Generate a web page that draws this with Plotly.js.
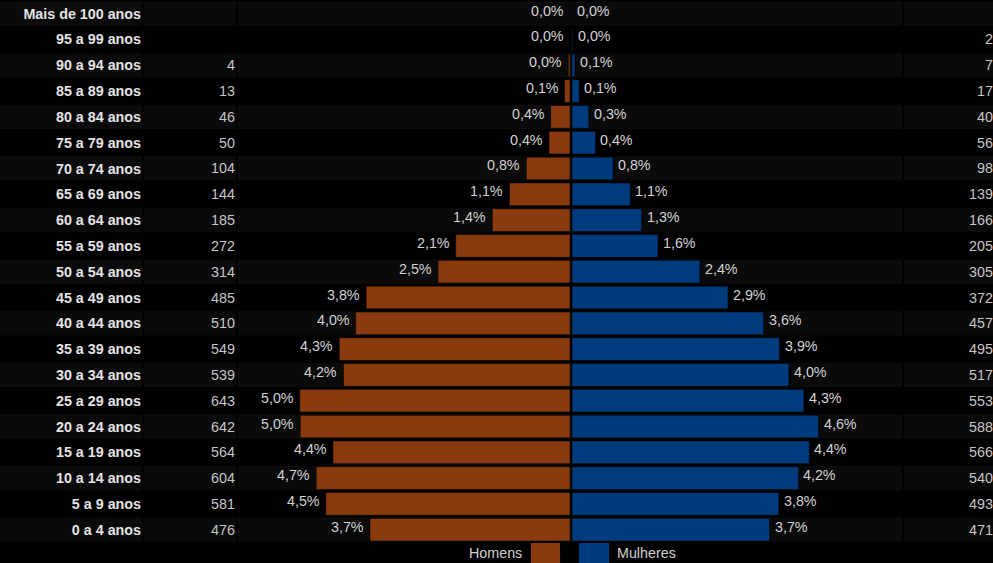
<!DOCTYPE html>
<html><head><meta charset="utf-8">
<script src="https://cdn.plot.ly/plotly-3.0.1.min.js"></script>
<style>html,body{margin:0;padding:0;background:#000;overflow:hidden;} #chart{width:993px;height:563px;}</style>
</head><body><div id="chart"></div>
<script>
// Index 0 = bottom row (0 a 4 anos)
const ageGroups = ["0 a 4 anos","5 a 9 anos","10 a 14 anos","15 a 19 anos","20 a 24 anos","25 a 29 anos","30 a 34 anos","35 a 39 anos","40 a 44 anos","45 a 49 anos","50 a 54 anos","55 a 59 anos","60 a 64 anos","65 a 69 anos","70 a 74 anos","75 a 79 anos","80 a 84 anos","85 a 89 anos","90 a 94 anos","95 a 99 anos","Mais de 100 anos"];
const menCounts = [476,581,604,564,642,643,539,549,510,485,314,272,185,144,104,50,46,13,4,null,null];
const menPct = ["3,7%","4,5%","4,7%","4,4%","5,0%","5,0%","4,2%","4,3%","4,0%","3,8%","2,5%","2,1%","1,4%","1,1%","0,8%","0,4%","0,4%","0,1%","0,0%","0,0%","0,0%"];
const womenCounts = [471,493,540,566,588,553,517,495,457,372,305,205,166,139,98,56,40,17,7,2,null];
const womenPct = ["3,7%","3,8%","4,2%","4,4%","4,6%","4,3%","4,0%","3,9%","3,6%","2,9%","2,4%","1,6%","1,3%","1,1%","0,8%","0,4%","0,3%","0,1%","0,1%","0,0%","0,0%"];
const legendLabels = ["Homens","Mulheres"];

const W = 993, H = 563;
const MEN_COLOR = "#8a3a0f", WOMEN_COLOR = "#003b7e";
const FONT = "Liberation Sans, Arial, sans-serif";
const idx = ageGroups.map((_, i) => i);

const traces = [
  {type:"bar", orientation:"h", x: menCounts.map(v => -(v || 0)), y: idx, xaxis:"x", yaxis:"y",
   width:0.88, marker:{color:MEN_COLOR, line:{color:"rgba(0,0,0,0.55)", width:1}}, hoverinfo:"skip", name:legendLabels[0]},
  {type:"bar", orientation:"h", x: womenCounts.map(v => (v || 0)), y: idx, xaxis:"x2", yaxis:"y",
   width:0.88, marker:{color:WOMEN_COLOR, line:{color:"rgba(0,0,0,0.55)", width:1}}, hoverinfo:"skip", name:legendLabels[1]}
];

const shapes = [];
const cols = [[0,142],[144,236],[238,902],[904,993]];
idx.forEach(i => {
  if (i % 2 === 0) {
    cols.forEach(c => shapes.push({type:"rect", xref:"paper", yref:"y", x0:c[0]/W, x1:c[1]/W,
      y0:i-0.47, y1:i+0.47, fillcolor:"#0a0a0a", line:{width:0}, layer:"below"}));
  }
});
// legend swatches
shapes.push({type:"rect", xref:"paper", yref:"paper", x0:531/W, x1:560/W, y0:-0.01, y1:(H-543)/H, fillcolor:MEN_COLOR, line:{width:0}});
shapes.push({type:"rect", xref:"paper", yref:"paper", x0:579/W, x1:609/W, y0:-0.01, y1:(H-543)/H, fillcolor:WOMEN_COLOR, line:{width:0}});

const annotations = [];
const numFont = {family:FONT, size:14.3, color:"#c6c6c6"};
const pctFont = {family:FONT, size:14.3, color:"#d2d2d2"};
idx.forEach(i => {
  if (menCounts[i] != null) annotations.push({xref:"paper", yref:"y", x:237/W, y:i, xanchor:"right", yanchor:"middle", text:String(menCounts[i]), showarrow:false, font:numFont});
  if (womenCounts[i] != null) annotations.push({xref:"paper", yref:"y", x:995/W, y:i, xanchor:"right", yanchor:"middle", text:String(womenCounts[i]), showarrow:false, font:numFont});
  annotations.push({xref:"x", yref:"y", x:-(menCounts[i] || 0), y:i, xanchor:"right", yanchor:"middle", xshift:-4, yshift:3, text:menPct[i], showarrow:false, font:pctFont});
  annotations.push({xref:"x2", yref:"y", x:(womenCounts[i] || 0), y:i, xanchor:"left", yanchor:"middle", xshift:3, yshift:3, text:womenPct[i], showarrow:false, font:pctFont});
});
annotations.push({xref:"paper", yref:"paper", x:524/W, y:(H-552.5)/H, xanchor:"right", yanchor:"middle", text:legendLabels[0], showarrow:false, font:{family:FONT, size:14.3, color:"#cfcfcf"}});
annotations.push({xref:"paper", yref:"paper", x:615/W, y:(H-552.5)/H, xanchor:"left", yanchor:"middle", text:legendLabels[1], showarrow:false, font:{family:FONT, size:14.3, color:"#cfcfcf"}});

const layout = {
  width:W, height:H, margin:{l:0, r:0, t:0, b:0},
  paper_bgcolor:"#000", plot_bgcolor:"rgba(0,0,0,0)",
  showlegend:false, barmode:"overlay",
  xaxis:{domain:[238/W, 570/W], range:[-790, 0], visible:false, fixedrange:true, anchor:"y"},
  xaxis2:{domain:[572/W, 902/W], range:[0, 787], visible:false, fixedrange:true, anchor:"y"},
  yaxis:{range:[-1.29, 20.53], tickmode:"array", tickvals:idx, ticktext:ageGroups, anchor:"free", position:141/W,
         showgrid:false, zeroline:false, showline:false, ticks:"", fixedrange:true,
         tickfont:{family:FONT, size:14.3, color:"#e4e4e4", weight:"bold"}},
  shapes:shapes, annotations:annotations
};

Plotly.newPlot("chart", traces, layout, {staticPlot:true, displayModeBar:false});
</script></body></html>
